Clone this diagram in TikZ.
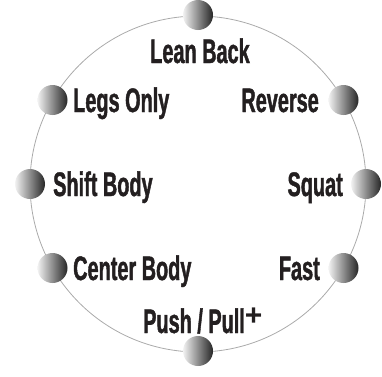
\documentclass[tikz,border=0pt]{standalone}
\usepackage{fontspec}
\setmainfont{Liberation Sans}[FakeStretch=0.585,FakeBold=1.2,BoldFont={* Bold}]
\newfontfamily\plusfont{Liberation Sans}
\definecolor{ink}{HTML}{231F20}
\definecolor{ring}{HTML}{AAAAAA}
\tikzset{
  ball/.style={circle, minimum size=30pt, inner sep=0pt, left color=black!5, right color=black!85},
  lbl/.style={inner sep=0pt, text=ink, font=\fontsize{34}{34}\selectfont\bfseries}
}
\begin{document}
\begin{tikzpicture}[x=1pt,y=-1pt]
\useasboundingbox (0,0) rectangle (382,376);
\coordinate (c) at (198,184);
\draw[ring, line width=0.8pt] (c) ellipse (168 and 168);
\node[ball] (b1) at (198,15) {};
\node[ball] (b2) at (343.5,100) {};
\node[ball] (b3) at (366,184) {};
\node[ball] (b4) at (343.5,268) {};
\node[ball] (b5) at (198,351) {};
\node[ball] (b6) at (52.5,268) {};
\node[ball] (b7) at (30,184) {};
\node[ball] (b8) at (52.5,100) {};
\node[lbl, anchor=base] (t1) at (200,63) {Lean Back};
\node[lbl, anchor=base east] (t2) at (319,112) {Reverse};
\node[lbl, anchor=base east] (t3) at (343,196) {Squat};
\node[lbl, anchor=base east] (t4) at (320,280) {Fast};
\node[lbl, anchor=base west] (t5) at (143,333) {Push / Pull\raisebox{8pt}{\plusfont\fontsize{30}{30}\selectfont +}};
\node[lbl, anchor=base west] (t6) at (73,280) {Center Body};
\node[lbl, anchor=base west] (t7) at (53,196) {Shift Body};
\node[lbl, anchor=base west] (t8) at (73,112) {Legs Only};
\end{tikzpicture}
\end{document}
